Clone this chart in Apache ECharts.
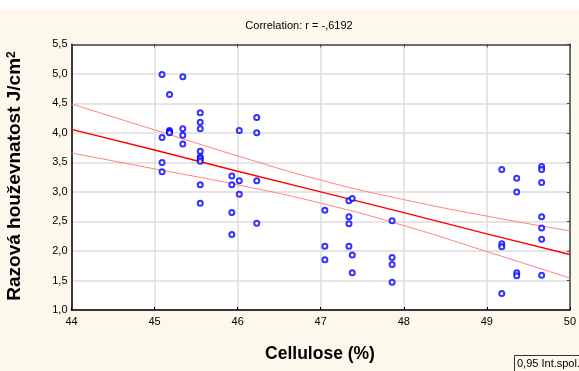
<!DOCTYPE html>
<html>
<head>
<meta charset="utf-8">
<script src="https://cdn.jsdelivr.net/npm/echarts@6/dist/echarts.min.js"></script>
<style>
  html, body { margin: 0; padding: 0; background: #fff; }
  #chart { width: 579px; height: 371px; }
</style>
</head>
<body>
<div id="chart"></div>
<script>
// Cellulose content (%) and impact toughness (J/cm²) per specimen
const cellulose = [
  45.09, 45.09, 45.09, 45.09,
  45.18, 45.18, 45.18, 45.18,
  45.34, 45.34, 45.34, 45.34,
  45.55, 45.55, 45.55, 45.55, 45.55, 45.55, 45.55, 45.55, 45.55,
  45.93, 45.93, 45.93, 45.93,
  46.02, 46.02, 46.02,
  46.23, 46.23, 46.23, 46.23,
  47.05, 47.05, 47.05,
  47.34, 47.34, 47.34, 47.34,
  47.38, 47.38, 47.38,
  47.86, 47.86, 47.86, 47.86,
  49.18, 49.18, 49.18, 49.18,
  49.36, 49.36, 49.36, 49.36,
  49.66, 49.66, 49.66, 49.66, 49.66, 49.66, 49.66
];
const toughness = [
  4.99, 3.92, 3.50, 3.34,
  4.65, 4.04, 4.02, 4.00,
  4.95, 4.07, 3.96, 3.81,
  4.34, 4.18, 4.07, 3.69, 3.59, 3.56, 3.52, 3.12, 2.81,
  3.27, 3.12, 2.65, 2.28,
  4.04, 3.19, 2.96,
  4.26, 4.00, 3.19, 2.47,
  2.69, 2.08, 1.85,
  2.85, 2.58, 2.46, 2.08,
  2.89, 1.93, 1.63,
  2.51, 1.89, 1.77, 1.47,
  3.38, 2.12, 2.07, 1.28,
  3.23, 3.00, 1.63, 1.58,
  3.43, 3.38, 3.16, 2.58, 2.39, 2.20, 1.59
];

// Fitted regression line and 0.95 confidence band
const fitX     = [44, 45, 46, 47, 48, 49, 50];
const fitY     = [4.06, 3.71, 3.35, 3.00, 2.65, 2.29, 1.94];
const bandUp   = [4.49, 4.05, 3.61, 3.20, 2.87, 2.59, 2.34];
const bandLow  = [3.66, 3.39, 3.12, 2.81, 2.43, 1.99, 1.54];

const xTicks = [44, 45, 46, 47, 48, 49, 50];
const yTicks = [1.0, 1.5, 2.0, 2.5, 3.0, 3.5, 4.0, 4.5, 5.0, 5.5];

const titleText = 'Correlation: r = -,6192';
const xTitle = 'Cellulose (%)';
const yTitle = 'Razová houževnatost J/cm';
const bandLabel = '0,95 Int.spol.';

const pairs = (xs, ys) => xs.map((x, i) => [x, ys[i]]);
const comma = v => v.toFixed(1).replace('.', ',');

const chart = echarts.init(document.getElementById('chart'), null, { renderer: 'canvas' });

const grid = { left: 71.5, right: 4, top: 44.3, bottom: 61, show: true,
  backgroundColor: '#ffffff', borderWidth: 0 };

const xCommon = {
  type: 'value', min: xTicks[0], max: xTicks[xTicks.length - 1], interval: 1
};
const yCommon = {
  type: 'value', min: yTicks[0], max: yTicks[yTicks.length - 1], interval: 0.5
};

chart.setOption({
  backgroundColor: '#ffffff',
  animation: false,
  graphic: [
    { type: 'rect', z: -10, shape: { x: 0, y: 9, width: 579, height: 362 },
      style: { fill: '#fdf8ec' } },
    { type: 'text', x: 299, y: 26, z: 10,
      style: { text: titleText, font: '11px "Liberation Sans Narrow", "Liberation Sans", sans-serif',
        fill: '#000', textAlign: 'center', textVerticalAlign: 'middle' } },
    { type: 'text', x: 320, y: 354, z: 10,
      style: { text: xTitle, font: 'bold 17.5px "Liberation Sans", Arial, sans-serif',
        fill: '#000', textAlign: 'center', textVerticalAlign: 'middle' } },
    { type: 'text', x: 15, y: 176, rotation: Math.PI / 2, z: 10,
      style: {
        text: '{a|' + yTitle + '}{s|2}',
        textAlign: 'center', textVerticalAlign: 'middle',
        rich: {
          a: { font: 'bold 19px "Liberation Sans", Arial, sans-serif', fill: '#000', verticalAlign: 'bottom' },
          s: { font: 'bold 12px "Liberation Sans", Arial, sans-serif', fill: '#000', verticalAlign: 'top' }
        }
      } },
    { type: 'rect', z: 10, shape: { x: 514.5, y: 355.5, width: 70, height: 17 },
      style: { fill: '#fdf8ec', stroke: '#333', lineWidth: 1 } },
    { type: 'text', x: 517, y: 364, z: 11,
      style: { text: bandLabel, font: '11px "Liberation Sans Narrow", "Liberation Sans", sans-serif',
        fill: '#000', textAlign: 'left', textVerticalAlign: 'middle' } }
  ],
  grid: grid,
  xAxis: [
    Object.assign({}, xCommon, {
      position: 'bottom',
      axisLine: { show: true, lineStyle: { color: '#000', width: 1.5 } },
      axisTick: { show: true, inside: true, length: 3, lineStyle: { color: '#000' } },
      axisLabel: { color: '#000', fontSize: 11, fontFamily: 'Liberation Sans', margin: 6,
        formatter: v => String(v) },
      splitLine: { show: true, lineStyle: { color: '#dcdcdc', width: 1.5 } }
    }),
    Object.assign({}, xCommon, {
      position: 'top',
      axisLine: { show: true, onZero: false, lineStyle: { color: '#444', width: 1.5 } },
      axisTick: { show: true, inside: true, length: 3, lineStyle: { color: '#444' } },
      axisLabel: { show: false },
      splitLine: { show: false }
    })
  ],
  yAxis: [
    Object.assign({}, yCommon, {
      position: 'left',
      axisLine: { show: true, onZero: false, lineStyle: { color: '#000', width: 1.5 } },
      axisTick: { show: false },
      axisLabel: { color: '#000', fontSize: 11, fontFamily: 'Liberation Sans', margin: 4,
        formatter: v => comma(v) },
      splitLine: { show: true, lineStyle: { color: '#dcdcdc', width: 1.5 } }
    }),
    Object.assign({}, yCommon, {
      position: 'right',
      axisLine: { show: true, onZero: false, lineStyle: { color: '#444', width: 1.5 } },
      axisTick: { show: true, inside: true, length: 3, lineStyle: { color: '#444' } },
      axisLabel: { show: false },
      splitLine: { show: false }
    })
  ],
  series: [
    { type: 'line', data: pairs(fitX, bandUp), showSymbol: false, smooth: true, z: 3,
      lineStyle: { color: '#ff8080', width: 1 } },
    { type: 'line', data: pairs(fitX, bandLow), showSymbol: false, smooth: true, z: 3,
      lineStyle: { color: '#ff8080', width: 1 } },
    { type: 'line', data: pairs(fitX, fitY), showSymbol: false, z: 4,
      lineStyle: { color: '#ff0000', width: 1.4 } },
    { type: 'scatter', data: pairs(cellulose, toughness), symbol: 'emptyCircle', symbolSize: 5, z: 5,
      itemStyle: { color: '#0000ff', borderWidth: 1.6 } }
  ]
});
</script>
</body>
</html>
